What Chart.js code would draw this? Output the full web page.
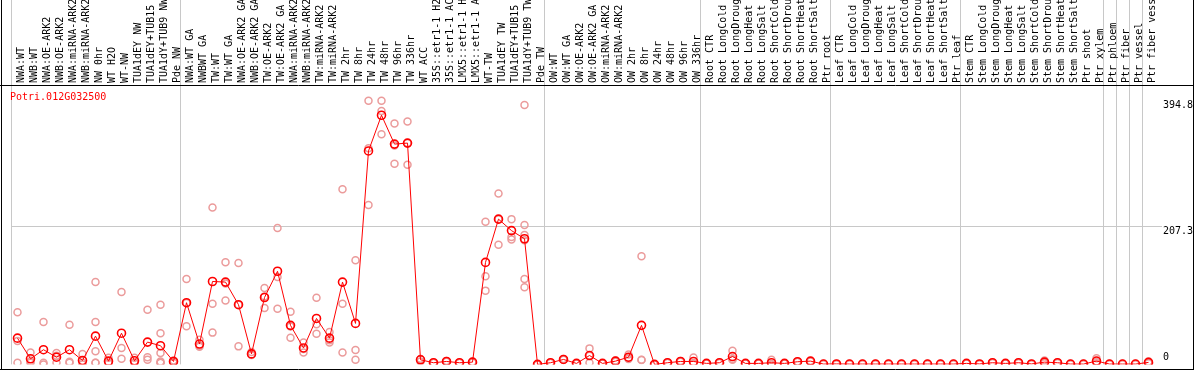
<!DOCTYPE html>
<html>
<head>
<meta charset="utf-8">
<script src="https://cdn.jsdelivr.net/npm/chart.js@4.4.1/dist/chart.umd.min.js"></script>
<style>
  html, body { margin: 0; padding: 0; background: #fff; }
  canvas { display: block; }
</style>
</head>
<body>
<canvas id="chart" width="1194" height="370"></canvas>
<script>
// --- Data ---
const geneName = 'Potri.012G032500';

const labels = [
    'NWA:WT', 'NWB:WT', 'NWA:OE-ARK2', 'NWB:OE-ARK2', 'NWA:miRNA-ARK2', 'NWB:miRNA-ARK2',
    'NW 0hr', 'WT H2O', 'WT-NW', 'TUA1dEY NW', 'TUA1dEY+TUB15', 'TUA1dY+TUB9 NW', 'Pde NW',
    'NWA:WT GA', 'NWBWT GA', 'TW:WT', 'TW:WT GA', 'NWA:OE-ARK2 GA', 'NWB:OE-ARK2 GA',
    'TW:OE-ARK2', 'TW:OE-ARK2 GA', 'NWA:miRNA-ARK2', 'NWB:miRNA-ARK2', 'TW:miRNA-ARK2', 'TW:miRNA-ARK2',
    'TW 2hr', 'TW 8hr', 'TW 24hr', 'TW 48hr', 'TW 96hr', 'TW 336hr', 'WT ACC',
    '35S::etr1-1 H2O', '35S::etr1-1 ACC', 'LMX5::etr1-1 H2O', 'LMX5::etr1-1 ACC',
    'WT-TW', 'TUA1dEY TW', 'TUA1dEY+TUB15', 'TUA1dY+TUB9 TW', 'Pde TW',
    'OW:WT', 'OW:WT GA', 'OW:OE-ARK2', 'OW:OE-ARK2 GA', 'OW:miRNA-ARK2', 'OW:miRNA-ARK2',
    'OW 2hr', 'OW 8hr', 'OW 24hr', 'OW 48hr', 'OW 96hr', 'OW 336hr',
    'Root CTR', 'Root LongCold', 'Root LongDrought', 'Root LongHeat', 'Root LongSalt',
    'Root ShortCold', 'Root ShortDrought', 'Root ShortHeat', 'Root ShortSalt', 'Ptr root',
    'Leaf CTR', 'Leaf LongCold', 'Leaf LongDrought', 'Leaf LongHeat', 'Leaf LongSalt',
    'Leaf ShortCold', 'Leaf ShortDrought', 'Leaf ShortHeat', 'Leaf ShortSalt', 'Ptr leaf',
    'Stem CTR', 'Stem LongCold', 'Stem LongDrought', 'Stem LongHeat', 'Stem LongSalt',
    'Stem ShortCold', 'Stem ShortDrought', 'Stem ShortHeat', 'Stem ShortSalt', 'Ptr shoot', 'Ptr xylem',
    'Ptr phloem', 'Ptr fiber', 'Ptr vessel', 'Ptr fiber vessel'
];

// group boundaries (index of first category of each group, plus the end)
const groupStarts = [0, 13, 41, 53, 63, 73, 84, 85, 86, 87, 88];

// mean expression per sample
const means = [
    39.3, 8.4, 22, 10.8, 22, 5.9, 42.3, 4.9, 46.7, 5.4, 33.4, 28, 4.4,
    92.4, 30.5, 124.2, 123.3, 89.4, 15.7, 100.2, 139.5, 58.5, 24.6, 68.8, 39.3,
    123.3, 61.4, 319.7, 373.2, 330, 331.5, 6.9, 2.5, 4.4, 2.5, 3.4,
    152.8, 217.6, 200.4, 188.2, 0,
    2.5, 7.4, 1.5, 13.3, 1.5, 4.9, 10.8, 58.5, 0, 2.5, 4.4, 4.4,
    1.5, 2.5, 11.8, 1.5, 1.5, 2.5, 1.5, 4, 4.9, 0.5,
    0.7, 0.5, 0.5, 0.5, 0.5, 0.5, 0.5, 0.5, 0.5, 0.5,
    1.5, 0.7, 2.5, 1.5, 2.5, 0.7, 3.4, 2.5, 0.5, 0.5, 5,
    0.5, 0.5, 0.5, 3
];

// individual replicates per sample
const replicates = [
    [78, 35, 2.5], [18, 4.7, 2.5], [63.4, 2.5, 0], [17, 13, 2.5], [59.4, 4, 2.5], [15.7, 2.5, 0],
    [123.3, 63.4, 19.6, 2.5, 2.5], [10, 2.5, 2], [108.6, 24.6, 8.4], [10, 3, 2.5], [82, 10.8, 7],
    [89.4, 46.7, 17.2, 4.4, 2.5, 2.5], [2.5, 4.4, 6],
    [128, 92, 57], [36.8, 28, 26.5], [235, 91, 47.6], [153, 121, 95.8], [151.8, 89.4, 27],
    [18.6, 14.5, 14], [114.5, 101.6, 84.5], [204.3, 131, 83.2], [79, 56.7, 39.8],
    [32.9, 23, 18], [100, 60, 46], [48.6, 36, 32.9],
    [262.3, 90.9, 17.7], [156, 21.6, 6.9], [394.8, 323.7, 238.7], [394.8, 379.4, 344.8],
    [361, 328, 300.6], [364, 331.5, 299], [8, 8, 4.4], [2.5, 2.5, 2.5], [5, 4.4, 3.8],
    [2.5, 2.5, 2.5], [4, 3.4, 2.8],
    [213.6, 132, 110.5], [255.9, 217.6, 179.3], [217.6, 191, 187], [388.5, 208.8, 194, 186, 128, 115.4], [0, 0, 0],
    [2.5, 2.5, 2.5], [8, 7.4, 6.8], [1.5, 1.5, 1.5], [24, 13, 2.5], [1.5, 1.5, 1.5], [6, 4.9, 4],
    [14.7, 10, 8], [162, 6.9, 6.6], [0, 0, 0], [2.5, 2.5, 2.5], [5, 4.4, 4], [10.3, 2, 1],
    [1.5, 1.5, 1.5], [3, 2.5, 2], [20.6, 8, 7], [1.5, 1.5, 1.5], [1.5, 1.5, 1.5], [7, 0.5, 0],
    [1.5, 1.5, 1.5], [4, 4, 4], [5, 4.9, 4.8], [0.5, 0.5, 0.5],
    [0.7, 0.7, 0.7], [0.5, 0.5, 0.5], [0.5, 0.5, 0.5], [0.5, 0.5, 0.5], [0.5, 0.5, 0.5],
    [0.5, 0.5, 0.5], [0.5, 0.5, 0.5], [0.5, 0.5, 0.5], [0.5, 0.5, 0.5], [0.5, 0.5, 0.5],
    [1.5, 1.5, 1.5], [0.7, 0.7, 0.7], [3, 2.5, 2], [1.5, 1.5, 1.5], [3, 2.5, 2], [0.7, 0.7, 0.7],
    [6, 2.5, 1.7], [3, 2.5, 2], [0.5, 0.5, 0.5], [0.5, 0.5, 0.5], [9.3, 4, 1.7],
    [0.5, 0.5, 0.5], [0.5, 0.5, 0.5], [0.5, 0.5, 0.5], [4.4, 3, 1.6]
];

// y axis: max replicate, a reference level, and zero
const yTicks = [0, 207.3, 394.8];
const yMax = 418.5;

// --- Styles ---
const FONT = { family: '"DejaVu Sans Mono", monospace', size: 10 };
const GRID_GRAY = '#c8c8c8';

// flatten replicates into scatter points (x = sample index)
const replicatePoints = [];
replicates.forEach((vals, i) => {
    vals.forEach(v => replicatePoints.push({ x: i, y: v }));
});

// frame, title and y labels
const framePlugin = {
    id: 'frame',
    afterDraw(chart) {
        const ctx = chart.ctx;
        const area = chart.chartArea;
        const yScale = chart.scales.y;
        ctx.save();

        // black outline
        ctx.strokeStyle = '#000';
        ctx.lineWidth = 1;
        ctx.beginPath();
        ctx.moveTo(1.5, 0); ctx.lineTo(1.5, 370);
        ctx.moveTo(1193.5, 0); ctx.lineTo(1193.5, 370);
        ctx.moveTo(0, Math.round(area.top) + 0.5); ctx.lineTo(1194, Math.round(area.top) + 0.5);
        ctx.moveTo(0, 369.5); ctx.lineTo(1194, 369.5);
        ctx.stroke();

        // gene name
        ctx.font = '10px "DejaVu Sans Mono", monospace';
        ctx.fillStyle = '#ff0000';
        ctx.textBaseline = 'middle';
        ctx.textAlign = 'left';
        ctx.fillText(geneName, 10, 97);

        // y tick labels
        ctx.fillStyle = '#000';
        yTicks.forEach(v => {
            const py = yScale.getPixelForValue(v);
            if (v === 0) {
                ctx.textBaseline = 'bottom';
                ctx.fillText(String(v), area.right + 8, py - 2);
            } else {
                ctx.textBaseline = 'top';
                ctx.fillText(String(v), area.right + 8, py);
            }
        });
        ctx.restore();
    }
};

new Chart(document.getElementById('chart'), {
    data: {
        labels: labels,
        datasets: [
            {
                type: 'line',
                label: 'mean',
                data: means,
                xAxisID: 'x',
                yAxisID: 'y',
                borderColor: '#ff0000',
                borderWidth: 1,
                pointRadius: 4,
                pointBorderWidth: 1.6,
                pointBorderColor: '#ff0000',
                pointBackgroundColor: 'rgba(0,0,0,0)',
                tension: 0
            },
            {
                type: 'scatter',
                label: 'replicates',
                data: replicatePoints,
                xAxisID: 'xr',
                yAxisID: 'y',
                pointRadius: 3.5,
                pointBorderWidth: 1.5,
                pointBorderColor: '#eb9b9b',
                pointBackgroundColor: 'rgba(0,0,0,0)',
                showLine: false
            }
        ]
    },
    options: {
        responsive: false,
        animation: false,
        layout: { padding: { left: 11, right: 0, top: 0, bottom: 1 } },
        plugins: { legend: { display: false }, tooltip: { enabled: false }, title: { display: false } },
        scales: {
            x: {
                type: 'category',
                position: 'top',
                offset: true,
                grid: {
                    offset: true,
                    color: ctx => groupStarts.includes(ctx.index) ? GRID_GRAY : 'rgba(0,0,0,0)',
                    lineWidth: 1,
                    drawTicks: true,
                    tickLength: 85
                },
                border: { display: false },
                ticks: {
                    autoSkip: false,
                    maxRotation: 90,
                    minRotation: 90,
                    padding: -83,
                    labelOffset: 16,
                    color: '#000',
                    font: FONT
                },
                afterFit: s => { s.height = 85; }
            },
            xr: {
                type: 'linear',
                display: false,
                min: -0.5,
                max: labels.length - 0.5
            },
            y: {
                position: 'right',
                min: 0,
                max: yMax,
                afterBuildTicks: s => { s.ticks = yTicks.map(v => ({ value: v })); },
                grid: {
                    color: ctx => (ctx.tick && ctx.tick.value === 207.3) ? GRID_GRAY : 'rgba(0,0,0,0)',
                    drawTicks: true,
                    tickLength: 7
                },
                border: { display: false },
                ticks: { display: false },
                afterFit: s => { s.width = 39; }
            }
        }
    },
    plugins: [framePlugin]
});
</script>
</body>
</html>
